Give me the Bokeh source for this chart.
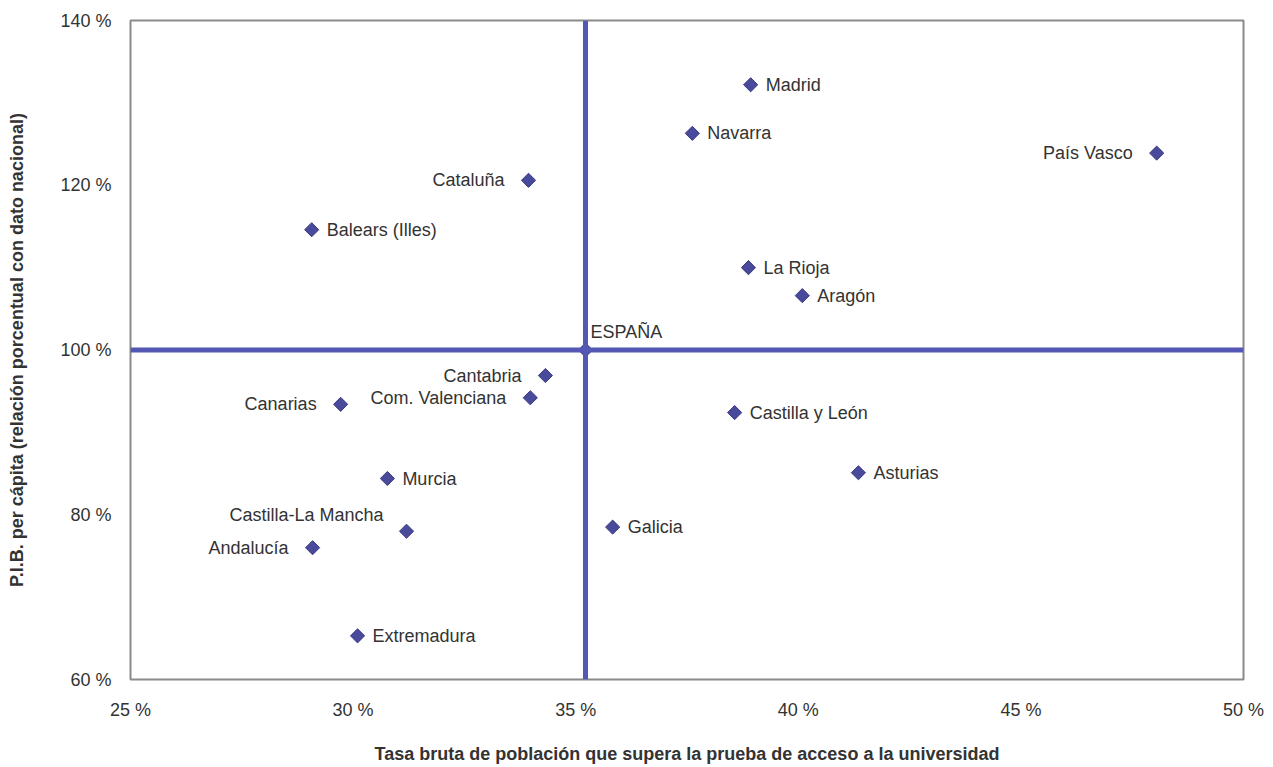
from bokeh.plotting import figure
from bokeh.models import ColumnDataSource, Span, FixedTicker, Range1d
from bokeh.core.properties import value
from bokeh.embed import file_html
from bokeh.resources import INLINE

# ---------------- data ----------------
regions = ["Madrid", "Navarra", "País Vasco", "Cataluña", "Balears (Illes)",
           "La Rioja", "Aragón", "Cantabria", "Com. Valenciana", "Canarias",
           "Castilla y León", "Asturias", "Murcia", "Galicia",
           "Castilla-La Mancha", "Andalucía", "Extremadura"]
tasa_acceso = [38.93, 37.62, 48.05, 33.94, 29.07,
               38.88, 40.09, 34.32, 33.98, 29.72,
               38.57, 41.35, 30.77, 35.83,
               31.20, 29.09, 30.10]
pib_per_capita = [132.2, 126.3, 123.9, 120.6, 114.6,
                  110.0, 106.6, 96.9, 94.2, 93.4,
                  92.4, 85.1, 84.4, 78.5,
                  78.0, 76.0, 65.3]
label_side = ["right", "right", "left", "left", "right",
              "right", "right", "left", "left", "left",
              "right", "right", "right", "right",
              "above-left", "left", "right"]

espana_name = "ESPAÑA"
espana_x = 35.22
espana_y = 100.0

x_ticks = [25, 30, 35, 40, 45, 50]
x_tick_labels = ["25 %", "30 %", "35 %", "40 %", "45 %", "50 %"]
y_ticks = [60, 80, 100, 120, 140]
y_tick_labels = ["60 %", "80 %", "100 %", "120 %", "140 %"]

x_title = "Tasa bruta de población que supera la prueba de acceso a la universidad"
y_title = "P.I.B. per cápita (relación porcentual con dato nacional)"

# ---------------- styles ----------------
FONT = "Liberation Sans"
TEXT_COLOR = "#333333"
LINE_COLOR = "#5458b4"
MARKER_COLOR = "#4a4a9c"
LABEL_SIZE = "18px"
side_style = {
    "right": dict(dx=15, dy=0, align="left"),
    "left": dict(dx=-24, dy=0, align="right"),
    "above-left": dict(dx=-23, dy=-16, align="right"),
}

p = figure(width=1273, height=767, output_backend="svg", toolbar_location=None,
           x_range=Range1d(x_ticks[0], x_ticks[-1]),
           y_range=Range1d(y_ticks[0], y_ticks[-1]),
           min_border_left=130, min_border_right=30,
           min_border_top=20, min_border_bottom=88)
p.grid.visible = False
p.outline_line_color = "#8a8a8a"
p.outline_line_width = 2
p.background_fill_color = "white"
p.border_fill_color = "white"

# reference lines through national value
p.add_layout(Span(location=espana_x, dimension="height", line_color=LINE_COLOR, line_width=5))
p.add_layout(Span(location=espana_y, dimension="width", line_color=LINE_COLOR, line_width=5))

# points
src = ColumnDataSource(dict(x=tasa_acceso, y=pib_per_capita, name=regions))
p.scatter("x", "y", source=src, marker="square", angle=0.785398, size=10,
          fill_color=MARKER_COLOR, line_color="#3a3a80", line_width=1)
p.scatter([espana_x], [espana_y], marker="square", angle=0.785398, size=10,
          fill_color=MARKER_COLOR, line_color="#3a3a80", line_width=1)

# labels
for side, st in side_style.items():
    idx = [i for i, s in enumerate(label_side) if s == side]
    if not idx:
        continue
    s = ColumnDataSource(dict(x=[tasa_acceso[i] for i in idx],
                              y=[pib_per_capita[i] for i in idx],
                              t=[regions[i] for i in idx]))
    p.text("x", "y", text="t", source=s, x_offset=st["dx"], y_offset=st["dy"],
           text_align=st["align"], text_baseline="middle",
           text_font=value(FONT), text_font_size=LABEL_SIZE, text_color=TEXT_COLOR)

p.text([espana_x], [espana_y], text=[espana_name], x_offset=5, y_offset=-18,
       text_align="left", text_baseline="middle",
       text_font=value(FONT), text_font_size=LABEL_SIZE, text_color=TEXT_COLOR)

# axes
p.xaxis.ticker = FixedTicker(ticks=x_ticks)
p.xaxis.major_label_overrides = {t: l for t, l in zip(x_ticks, x_tick_labels)}
p.yaxis.ticker = FixedTicker(ticks=y_ticks)
p.yaxis.major_label_overrides = {t: l for t, l in zip(y_ticks, y_tick_labels)}
for ax in (p.xaxis, p.yaxis):
    ax.axis_line_color = None
    ax.major_tick_line_color = None
    ax.minor_tick_line_color = None
    ax.major_label_text_font = FONT
    ax.major_label_text_font_size = "18px"
    ax.major_label_text_color = TEXT_COLOR
    ax.axis_label_text_font = FONT
    ax.axis_label_text_font_style = "bold"
    ax.axis_label_text_font_size = "18px"
    ax.axis_label_text_color = TEXT_COLOR
p.xaxis.axis_label = x_title
p.yaxis.axis_label = y_title
p.xaxis.major_label_standoff = 14
p.yaxis.major_label_standoff = 13
p.xaxis.axis_label_standoff = 21
p.yaxis.axis_label_standoff = 30

open("out.html", "w").write(file_html(p, INLINE))
